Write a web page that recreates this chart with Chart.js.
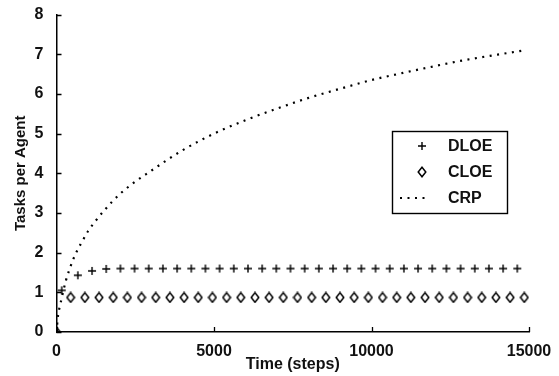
<!DOCTYPE html>
<html lang="en">
<head>
  <meta charset="UTF-8" />
  <title>Tasks per Agent</title>
  <script src="https://cdn.jsdelivr.net/npm/chart.js"></script>
  <style>
    body { margin: 0; background: white; }
    canvas { display: block; }
  </style>
</head>
<body>
  <canvas id="tasksChart" width="559" height="376"></canvas>

  <script>
    // values
    const dloeSteps = [165, 678, 1128, 1578, 2028, 2478, 2928, 3378, 3828, 4278, 4728, 5178, 5628, 6078, 6528, 6978,
      7428, 7878, 8328, 8778, 9228, 9678, 10128, 10578, 11028, 11478, 11928, 12378, 12828, 13278, 13728, 14178, 14628];
    const dloeValues = [1.05, 1.43, 1.54, 1.59, 1.6, 1.6, 1.6, 1.6, 1.6, 1.6, 1.6, 1.6, 1.6, 1.6, 1.6, 1.6,
      1.6, 1.6, 1.6, 1.6, 1.6, 1.6, 1.6, 1.6, 1.6, 1.6, 1.6, 1.6, 1.6, 1.6, 1.6, 1.6, 1.6];

    const cloeSteps = [0, 450, 900, 1350, 1800, 2250, 2700, 3150, 3600, 4050, 4500, 4950, 5400, 5850, 6300, 6750, 7200,
      7650, 8100, 8550, 9000, 9450, 9900, 10350, 10800, 11250, 11700, 12150, 12600, 13050, 13500, 13950, 14400, 14850];
    const cloeValues = [0, 0.87, 0.87, 0.87, 0.87, 0.87, 0.87, 0.87, 0.87, 0.87, 0.87, 0.87, 0.87, 0.87, 0.87, 0.87, 0.87,
      0.87, 0.87, 0.87, 0.87, 0.87, 0.87, 0.87, 0.87, 0.87, 0.87, 0.87, 0.87, 0.87, 0.87, 0.87, 0.87, 0.87];

    const crpSteps = [0, 50, 100, 150, 200, 300, 400, 500, 600, 700, 800, 1000, 1250, 1500, 1750, 2000, 2500, 3000,
      3500, 4000, 4500, 5000, 6000, 7000, 8000, 9000, 10000, 11000, 12000, 13000, 14000, 14850];
    const crpValues = [0, 0.42, 0.63, 0.8, 0.98, 1.3, 1.55, 1.77, 1.96, 2.12, 2.26, 2.54, 2.81, 3.05, 3.27, 3.47, 3.79, 4.06,
      4.33, 4.58, 4.8, 5.0, 5.34, 5.63, 5.9, 6.13, 6.35, 6.53, 6.7, 6.86, 6.99, 7.1];

    const seriesNames = ['DLOE', 'CLOE', 'CRP'];
    const xTicks = [0, 5000, 10000, 15000];
    const yTicks = [0, 1, 2, 3, 4, 5, 6, 7, 8];

    const font = { family: 'Liberation Sans', weight: 'bold', size: 16 };
    const yTitleFont = { family: 'Liberation Sans', weight: 'bold', size: 15 };

    function makePlus() {
      const c = document.createElement('canvas');
      c.width = 10; c.height = 10;
      const g = c.getContext('2d');
      g.strokeStyle = '#000';
      g.lineWidth = 1.4;
      g.beginPath();
      g.moveTo(5, 1); g.lineTo(5, 9);
      g.moveTo(1, 5); g.lineTo(9, 5);
      g.stroke();
      return c;
    }

    function makeDiamond() {
      const c = document.createElement('canvas');
      c.width = 10; c.height = 12;
      const g = c.getContext('2d');
      g.strokeStyle = '#000';
      g.lineWidth = 1.5;
      g.beginPath();
      g.moveTo(5, 1.2); g.lineTo(8.8, 6); g.lineTo(5, 10.8); g.lineTo(1.2, 6);
      g.closePath();
      g.stroke();
      return c;
    }

    const plusMark = makePlus();
    const diamondMark = makeDiamond();

    const toPoints = (xs, ys) => xs.map((x, i) => ({ x: x, y: ys[i] }));

    // ticks drawn inward and the legend box inside the plot
    const extras = {
      id: 'extras',
      afterDraw(chart) {
        const c = chart.ctx;
        const xs = chart.scales.x, ys = chart.scales.y;
        const area = chart.chartArea;
        c.save();
        c.strokeStyle = '#000';
        c.lineWidth = 1.3;
        c.beginPath();
        xTicks.forEach(v => {
          const px = Math.round(xs.getPixelForValue(v)) + 0.5;
          c.moveTo(px, area.bottom); c.lineTo(px, area.bottom - 5);
        });
        yTicks.forEach(v => {
          const py = Math.round(ys.getPixelForValue(v)) + 0.5;
          c.moveTo(area.left, py); c.lineTo(area.left + 5, py);
        });
        c.stroke();

        // legend
        c.fillStyle = 'white';
        c.fillRect(392, 131, 116, 82);
        c.lineWidth = 1.4;
        c.strokeRect(392.5, 131.5, 115, 82);
        const rows = [146, 172, 198];
        c.drawImage(plusMark, 422 - 5, rows[0] - 5);
        c.drawImage(diamondMark, 422 - 5, rows[1] - 6);
        c.setLineDash([2, 5.5]);
        c.lineWidth = 2.2;
        c.strokeStyle = '#000';
        c.beginPath();
        c.moveTo(400, rows[2]); c.lineTo(428, rows[2]);
        c.stroke();
        c.setLineDash([]);
        c.fillStyle = '#111';
        c.font = 'bold 16px "Liberation Sans"';
        c.textBaseline = 'middle';
        chart.data.datasets.forEach((ds, i) => c.fillText(ds.label, 448, rows[i] + 1));
        c.restore();
      }
    };

    new Chart(document.getElementById('tasksChart'), {
      type: 'scatter',
      data: {
        datasets: [
          {
            label: seriesNames[0],
            data: toPoints(dloeSteps, dloeValues),
            pointStyle: plusMark,
            showLine: false
          },
          {
            label: seriesNames[1],
            data: toPoints(cloeSteps, cloeValues),
            pointStyle: diamondMark,
            showLine: false
          },
          {
            label: seriesNames[2],
            data: toPoints(crpSteps, crpValues),
            showLine: true,
            pointRadius: 0,
            borderColor: '#000',
            borderWidth: 2.2,
            borderDash: [2, 5.5],
            cubicInterpolationMode: 'monotone'
          }
        ]
      },
      options: {
        responsive: false,
        animation: false,
        layout: { padding: { top: 12, right: 30, left: 0, bottom: 0 } },
        plugins: {
          legend: { display: false },
          tooltip: { enabled: false }
        },
        scales: {
          x: {
            type: 'linear',
            min: 0,
            max: 15000,
            afterFit: s => { s.height = 44; },
            afterBuildTicks: s => { s.ticks = xTicks.map(v => ({ value: v })); },
            grid: { display: false },
            border: { display: true, color: '#000', width: 1.5 },
            ticks: { color: '#111', font: font, padding: 2, maxRotation: 0, callback: v => String(v) },
            title: { display: true, text: 'Time (steps)', color: '#111', font: font, padding: { top: 0, bottom: 2 } }
          },
          y: {
            min: 0,
            max: 8,
            afterFit: s => { s.width = 56.5; },
            afterBuildTicks: s => { s.ticks = yTicks.map(v => ({ value: v })); },
            grid: { display: false },
            border: { display: true, color: '#000', width: 1.5 },
            ticks: { color: '#111', font: font, padding: 5, callback: v => String(v) },
            title: { display: true, text: 'Tasks per Agent', color: '#111', font: yTitleFont, padding: { top: 12, bottom: 0 } }
          }
        }
      },
      plugins: [extras]
    });
  </script>
</body>
</html>
